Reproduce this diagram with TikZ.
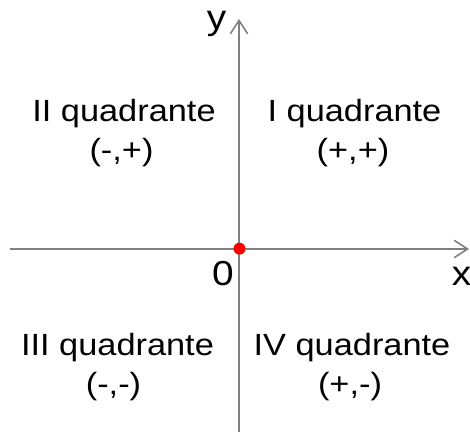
\documentclass[tikz,border=0pt]{standalone}
\usepackage{fontspec}
\setmainfont{Liberation Sans}[FakeStretch=1.12]
\usetikzlibrary{arrows.meta}
\definecolor{axisgray}{HTML}{808080}
\tikzset{
  axis/.style={axisgray,line width=1.8pt},
  quad/.style={anchor=base,inner sep=0pt,font=\fontsize{23pt}{27pt}\selectfont},
  lbl/.style={anchor=base,inner sep=0pt,font=\fontsize{26pt}{30pt}\selectfont},
}
\begin{document}
\begin{tikzpicture}[x=0.75pt,y=0.75pt,>={Straight Barb[length=10pt,width=13pt,line width=1.2pt]}]
  \useasboundingbox (0,0) rectangle (470,432);
  \coordinate (west) at (10,183);
  \coordinate (east) at (469,183);
  \coordinate (south) at (239,0);
  \coordinate (north) at (239,413);
  \draw[axis,->] (west) -- (east);
  \draw[axis,->] (south) -- (north);
  \node[circle,fill=red,inner sep=0pt,minimum size=9pt] (origin) at (239.5,183.3) {};
  \node[lbl] (ylabel) at (216.5,402) {y};
  \node[lbl] (xlabel) at (461.5,147) {x};
  \node[lbl] (zero) at (223,147) {0};
  % quadrants
  \node[quad] (quadI) at (354.5,310) {I quadrante};
  \node[quad] (signI) at (353,271) {(+,+)};
  \node[quad] (quadII) at (124,310) {II quadrante};
  \node[quad] (signII) at (121.5,271) {(-,+)};
  \node[quad] (quadIII) at (117.5,77) {III quadrante};
  \node[quad] (signIII) at (113.5,38) {(-,-)};
  \node[quad] (quadIV) at (352,77) {IV quadrante};
  \node[quad] (signIV) at (350,38) {(+,-)};
\end{tikzpicture}
\end{document}
